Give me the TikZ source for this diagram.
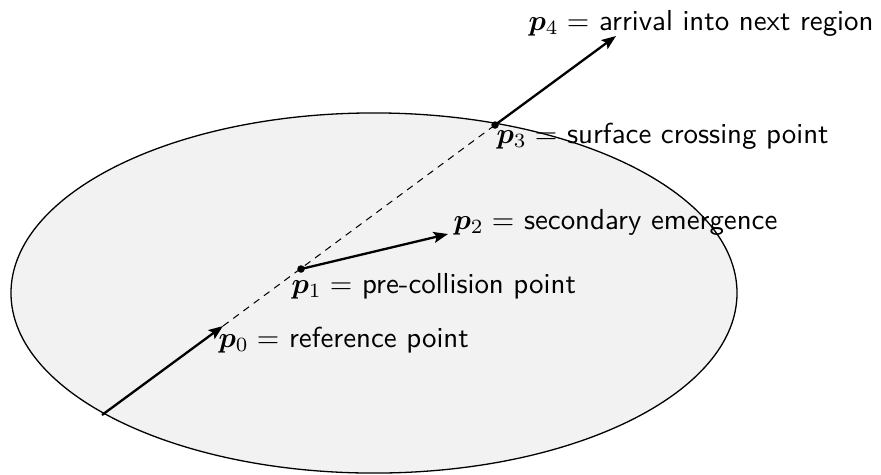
\documentclass[tikz,border=0pt]{standalone}
\usepackage{amsmath,bm}
\usetikzlibrary{arrows.meta}
\begin{document}
\begin{tikzpicture}[x=0.346pt,y=-0.346pt,
  region/.style={draw=black,line width=0.45pt,fill=black!5},
  ray/.style={line width=0.8pt,-{Stealth[length=5pt,width=3.8pt,inset=1pt]}},
  hidden/.style={line width=0.35pt,dash pattern=on 2.4pt off 2pt},
  dotpt/.style={circle,fill=black,inner sep=0pt,minimum size=2.6pt},
  lab/.style={inner sep=0pt,anchor=base west,font=\sffamily}]
\useasboundingbox (0,0) rectangle (881,474);
\coordinate (c) at (374,293);
\draw[region] (c) ellipse [x radius=125.6pt, y radius=62.3pt];
\coordinate (s) at (102,415);
\coordinate (p0) at (223,326);
\node[dotpt] (p1) at (301,269) {};
\coordinate (p2) at (448,234);
\node[dotpt] (p3) at (495,125) {};
\coordinate (p4) at (616,36);
\draw[hidden] (p0) -- (p3.center);
\draw[ray] (s) -- (p0);
\draw[ray] (p1.center) -- (p2);
\draw[ray] (p3.center) -- (p4);
\node[lab] (l0) at (218,347) {$\bm{p}_0 =$ reference point};
\node[lab] (l1) at (291,293) {$\bm{p}_1 =$ pre-collision point};
\node[lab] (l2) at (453,229) {$\bm{p}_2 =$ secondary emergence};
\node[lab] (l3) at (496,143) {$\bm{p}_3 =$ surface crossing point};
\node[lab] (l4) at (528,30) {$\bm{p}_4 =$ arrival into next region};
\end{tikzpicture}
\end{document}
